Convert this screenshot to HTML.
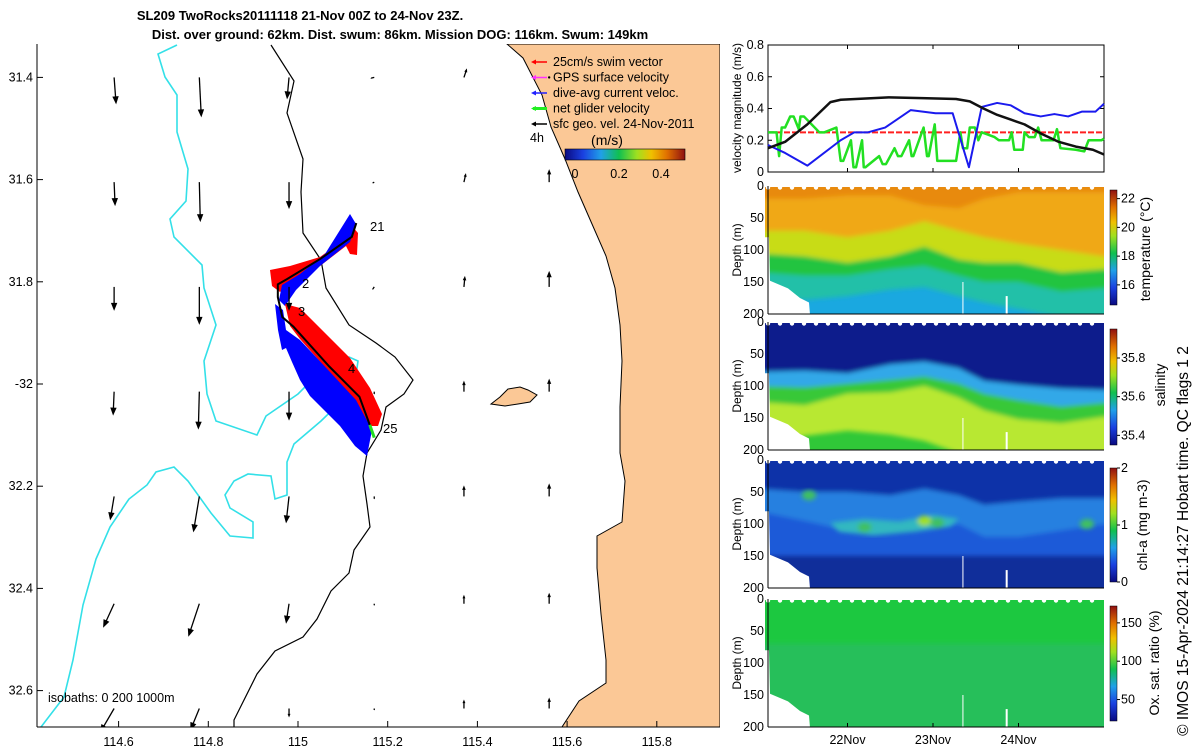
<!DOCTYPE html>
<html><head><meta charset="utf-8"><style>
html,body{margin:0;padding:0;background:#fff;}
svg{display:block;font-family:"Liberation Sans","DejaVu Sans",sans-serif;}
</style></head><body>
<svg id="root" width="1200" height="750" viewBox="0 0 1200 750" xmlns="http://www.w3.org/2000/svg">
<defs>
<linearGradient id="jet" x1="0" y1="1" x2="0" y2="0">
<stop offset="0" stop-color="#0a0a80"/><stop offset=".15" stop-color="#1a40e0"/><stop offset=".3" stop-color="#20a0e8"/><stop offset=".45" stop-color="#10c050"/><stop offset=".6" stop-color="#a0e020"/><stop offset=".72" stop-color="#f0c000"/><stop offset=".85" stop-color="#e07000"/><stop offset="1" stop-color="#901010"/></linearGradient>
<linearGradient id="jeth" x1="0" y1="0" x2="1" y2="0">
<stop offset="0" stop-color="#0a0a80"/><stop offset=".15" stop-color="#1a40e0"/><stop offset=".3" stop-color="#20a0e8"/><stop offset=".45" stop-color="#10c050"/><stop offset=".6" stop-color="#a0e020"/><stop offset=".72" stop-color="#f0c000"/><stop offset=".85" stop-color="#e07000"/><stop offset="1" stop-color="#901010"/></linearGradient>
<filter id="blur" x="-5%" y="-5%" width="110%" height="110%"><feGaussianBlur stdDeviation="2.5"/></filter>
<clipPath id="mapclip"><rect x="37" y="44" width="683" height="683"/></clipPath>
</defs>
<text x="300" y="20" font-size="13" font-weight="bold" text-anchor="middle">SL209 TwoRocks20111118 21-Nov 00Z to 24-Nov 23Z.</text>
<text x="400" y="39" font-size="13" font-weight="bold" text-anchor="middle">Dist. over ground: 62km. Dist. swum: 86km. Mission DOG: 116km. Swum: 149km</text>
<g id="map" clip-path="url(#mapclip)"></g>
<g id="mapaxes"></g>
<g id="vel"></g>
<g id="panels"></g>
<text transform="translate(1188,541) rotate(-90)" font-size="15.5" text-anchor="middle">© IMOS 15-Apr-2024 21:14:27 Hobart time. QC flags 1  2</text>
</svg>
<script>
// ---------- data ----------
const mapLonTicks=[114.6,114.8,115,115.2,115.4,115.6,115.8];
const mapLatTicks=[-31.4,-31.6,-31.8,-32,-32.2,-32.4,-32.6];
const arrowLon=[114.59,114.78,114.98,115.17,115.37,115.56];
const arrowLat=[-31.4,-31.605,-31.81,-32.015,-32.22,-32.43,-32.635];
const arrowU=[[2,2,-2,-4,3,0],[1,1,0,-2,2,0],[0,0,0,-2,1,0],[-1,-1,0,0,0,0],[-4,-6,-3,0,0,0],[-11,-11,-3,0,0,0],[-14,-9,0,0,0,0]];
const arrowV=[[27,40,22,1,-9,0],[24,40,27,1,-9,-13],[24,38,24,3,-11,-16],[24,38,29,3,-11,-13],[24,36,27,3,-11,-13],[24,33,20,2,-9,-11],[24,22,9,2,-9,-11]];
const velTime=[0.07,0.27,0.53,0.8,0.92,1.48,1.87,2.27,2.43,2.59,2.75,2.91,3.07,3.27,3.47,3.67,3.87,4.0];
const velBlack=[0.15,0.19,0.30,0.44,0.455,0.47,0.465,0.46,0.445,0.40,0.36,0.33,0.30,0.24,0.19,0.16,0.14,0.11];
const blueTime=[0.07,0.27,0.53,0.92,1.08,1.24,1.44,1.74,2.03,2.23,2.42,2.57,2.75,2.91,3.07,3.26,3.42,3.58,3.74,3.9,4.0];
const velBlue=[0.17,0.12,0.04,0.2,0.25,0.25,0.28,0.39,0.37,0.37,0.03,0.41,0.435,0.42,0.37,0.35,0.365,0.35,0.38,0.38,0.43];
const swimVal=0.25;
const greenTime=[0.07,0.17,0.2,0.23,0.27,0.33,0.37,0.43,0.45,0.49,0.67,0.73,0.87,0.92,0.95,1.04,1.07,1.1,1.17,1.19,1.21,1.37,1.41,1.45,1.55,1.59,1.63,1.72,1.75,1.77,1.89,1.93,1.95,2.02,2.05,2.07,2.27,2.32,2.35,2.4,2.43,2.49,2.53,2.57,2.72,2.77,2.89,2.92,2.95,3.05,3.07,3.12,3.19,3.23,3.27,3.41,3.45,3.49,3.67,3.77,3.82,3.97,4.0];
const velGreen=[0.25,0.25,0.1,0.28,0.28,0.35,0.35,0.27,0.35,0.35,0.25,0.25,0.28,0.07,0.07,0.2,0.03,0.03,0.2,0.03,0.03,0.1,0.05,0.05,0.15,0.1,0.1,0.2,0.1,0.1,0.28,0.1,0.1,0.3,0.07,0.07,0.07,0.25,0.15,0.15,0.28,0.28,0.2,0.25,0.22,0.2,0.2,0.25,0.14,0.14,0.25,0.22,0.22,0.28,0.2,0.2,0.27,0.15,0.14,0.13,0.2,0.2,0.21];
const velTicks=[0,0.2,0.4,0.6,0.8];
const dayTicks=[1,2,3];const dayLabels=["22Nov","23Nov","24Nov"];
const depthTicks=[0,50,100,150,200];
const secTime=[0.07,0.5,1,1.5,1.9,2.3,2.6,3,3.5,4];
const tempB=[[175,178,172,162,158,172,182,192,205,205],[135,140,140,130,125,140,150,150,165,160],[105,110,120,110,95,115,120,120,135,130],[70,70,80,70,55,70,80,90,100,110],[20,20,15,15,30,35,20,10,10,10]];
const tempColors=["#1aa8e0","#20c0a8","#20c440","#c8dc18","#f0a818","#e88a10"];
const salB=[[205,178,170,176,186,205,205,205,205,205],[125,130,112,110,100,118,138,152,158,148],[100,102,96,90,85,96,112,122,132,126],[78,76,80,66,62,72,92,98,104,106]];
const salColors=["#30c838","#b8e830","#38c838","#30a8e8","#101a8c"];
const chlB=[[150,150,150,150,150,150,150,150,150,150],[80,95,110,105,100,100,120,120,110,100],[45,50,50,55,45,55,70,65,60,60]];
const chlColors=["#102e9a","#1c5ad8","#2880e0","#1030a8"];
const chlPeakT=[0.55,1.2,1.9,2.05,3.8];const chlPeakD=[55,105,95,98,100];
const tempTicks=[16,18,20,22];const salTicks=[35.4,35.6,35.8];const chlTicks=[0,1,2];const oxTicks=[50,100,150];
const track=[[115.13,-31.685],[115.12,-31.712],[115.05,-31.755],[114.975,-31.795],[114.955,-31.805],[114.955,-31.83],[114.965,-31.869],[114.99,-31.888],[115.07,-31.966],[115.137,-32.025],[115.16,-32.08]];

// ---------- helpers ----------
const NS="http://www.w3.org/2000/svg";
function mk(tag,attrs,parent){const e=document.createElementNS(NS,tag);for(const k in attrs)e.setAttribute(k,attrs[k]);(parent||document.getElementById('root')).appendChild(e);return e;}
const lonX=lon=>298+(lon-115)*448.5;
const latY=lat=>384+(-32-lat)*511;

// ---------- map ----------
const map=document.getElementById('map');
const land=mk('polygon',{points:"507,44 523,58 542,95 551,127 565,159 578,192 592,224 606,256 615,288 620,325 622,361 620,407 620,453 625,481 622,522 597,536 597,568 601,614 606,660 606,683 579,701 560,730 720,730 720,44",fill:"#fbc896",stroke:"#000","stroke-width":1},map);

const isl=mk('polygon',{points:"491,404 500,397 508,389 520,387 528,390 537,395 530,402 518,404 505,406",fill:"#fbc896",stroke:"#000","stroke-width":1},map);

const iso1=mk('polyline',{points:"177,45 158,54 165,77 177,95 177,132 188,169 186,201 170,219 174,237 202,265 204,288 216,325 204,361 207,394 216,421 257,435 266,416 298,394 321,371 349,357 358,361 354,389 321,421 294,444 287,462 287,495 275,499 271,476 248,474 234,481 225,495 230,508 253,522 253,538 230,536 211,513 188,481 174,467 156,472 147,485 129,499 110,527 96,559 83,605 73,660 64,697 41,727",fill:"none",stroke:"#33e0e8","stroke-width":1.6},map);

const iso2=mk('polyline',{points:"271,45 294,81 287,113 303,159 301,192 303,233 321,260 326,288 349,325 376,343 395,357 413,380 404,394 386,407 381,430 367,453 363,476 367,504 370,527 354,550 349,573 331,591 317,619 303,637 275,651 257,674 234,720 234,730",fill:"none",stroke:"#000","stroke-width":1.2},map);

const swaths=[["#ff0000","270,270 290,266 320,257 346,238 352,226 358,233 357,255 350,254 346,246 320,266 290,283 280,292 272,286","swim-swath-north"],
["#0000ff","350,214 356,224 350,242 320,266 296,290 285,306 279,300 282,285 300,274 325,254","current-swath-north"],
["#ff0000","285,304 300,308 312,320 350,358 370,388 382,414 378,426 369,426 355,401 330,373 300,339 290,326","swim-swath-south"],
["#0000ff","275,304 283,310 286,330 300,340 330,372 356,400 372,430 367,456 355,446 340,426 310,396 300,380 292,362 286,348 282,350 278,330","current-swath-south"]];
swaths.forEach(s=>{const p=mk('polygon',{points:s[1],fill:s[0]},map);});
const tr=mk('polyline',{points:track.map(p=>lonX(p[0])+","+latY(p[1])).join(" "),fill:"none",stroke:"#000","stroke-width":2},map);

const gl=mk('line',{x1:lonX(115.16),y1:latY(-32.08),x2:lonX(115.17),y2:latY(-32.105),stroke:"#22dd22","stroke-width":3},map);

[["21",370,231],["2",302,288],["3",298,316],["4",348,373],["25",383,433]].forEach(d=>{const t=mk('text',{x:d[1],y:d[2],"font-size":13},map);t.textContent=d[0];});
for(let r=0;r<arrowLat.length;r++)for(let c=0;c<arrowLon.length;c++){
 const x0=lonX(arrowLon[c]),y0=latY(arrowLat[r]),u=arrowU[r][c],v=arrowV[r][c];
 const g=mk('g',{},map);
 const L=Math.hypot(u,v);
 if(L<1.5){mk('circle',{cx:x0,cy:y0,r:1.2,fill:"#000"},g);continue;}
 const x1=x0+u,y1=y0+v,ux=u/L,uy=v/L,h=Math.min(8,L*0.4),w=h*0.4;
 mk('line',{x1:x0,y1:y0,x2:x1-ux*h*0.6,y2:y1-uy*h*0.6,stroke:"#000","stroke-width":1.3},g);
 mk('polygon',{points:`${x1},${y1} ${x1-ux*h-uy*w},${y1-uy*h+ux*w} ${x1-ux*h+uy*w},${y1-uy*h-ux*w}`,fill:"#000"},g);
}
const leg=mk('g',{},map);
[["25cm/s swim vector","#ff0000"],["GPS surface velocity","#ff33ff"],["dive-avg current veloc.","#2020ff"],["net glider velocity","#22ee22"],["sfc geo. vel. 24-Nov-2011","#000"]].forEach((d,i)=>{
 const y=62+i*15.5;const e=mk('g',{},leg);
 mk('line',{x1:533,y1:y,x2:547,y2:y,stroke:d[1],"stroke-width":i==3?3:1.5},e);
 mk('polygon',{points:`531,${y} 536,${y-2.5} 536,${y+2.5}`,fill:d[1]},e);
 const t=mk('text',{x:553,y:y+4,"font-size":12.5},e);t.textContent=d[0];});
let t4=mk('text',{x:530,y:142,"font-size":12.5},leg);t4.textContent="4h";
let tms=mk('text',{x:607,y:145,"font-size":14,"text-anchor":"middle"},leg);tms.textContent="(m/s)";
mk('rect',{x:565,y:149,width:120,height:11,fill:"url(#jeth)",stroke:"#000","stroke-width":.6},leg);
[["0",575],["0.2",619],["0.4",661]].forEach(d=>{const t=mk('text',{x:d[1],y:178,"font-size":12.5,"text-anchor":"middle"},leg);t.textContent=d[0];});
let isb=mk('text',{x:48,y:702,"font-size":12.5},map);isb.textContent="isobaths: 0   200  1000m";
const ma=document.getElementById('mapaxes');
mk('line',{x1:37,y1:44,x2:37,y2:727,stroke:"#000","stroke-width":1},ma);
mk('line',{x1:37,y1:727,x2:720,y2:727,stroke:"#000","stroke-width":1},ma);
mapLonTicks.forEach(l=>{const x=lonX(l);mk('line',{x1:x,y1:727,x2:x,y2:721,stroke:"#000"},ma);const t=mk('text',{x:x,y:746,"font-size":12.5,"text-anchor":"middle"},ma);t.textContent=String(l);});
mapLatTicks.forEach(l=>{const y=latY(l);mk('line',{x1:37,y1:y,x2:43,y2:y,stroke:"#000"},ma);const t=mk('text',{x:33,y:y+4,"font-size":12.5,"text-anchor":"end"},ma);t.textContent=(l==-32?"-32":String(-l));});

// ---------- velocity chart ----------
const PX0=768,PX1=1104;
const tX=t=>PX0+(t-0.07)/3.93*(PX1-PX0);
const vY=v=>172-v/0.8*127;
const vel=document.getElementById('vel');
mk('rect',{x:PX0,y:45,width:PX1-PX0,height:127,fill:"#fff",stroke:"#000","stroke-width":1},vel);
velTicks.forEach(v=>{const y=vY(v);mk('line',{x1:PX0,y1:y,x2:PX0+4,y2:y,stroke:"#000"},vel);mk('line',{x1:PX1,y1:y,x2:PX1-4,y2:y,stroke:"#000"},vel);const t=mk('text',{x:PX0-4,y:y+4,"font-size":12.5,"text-anchor":"end"},vel);t.textContent=String(v);});
dayTicks.forEach(d=>{const x=tX(d);mk('line',{x1:x,y1:172,x2:x,y2:168,stroke:"#000"},vel);mk('line',{x1:x,y1:45,x2:x,y2:49,stroke:"#000"},vel);});
let vl=mk('text',{transform:"translate(741,108) rotate(-90)","font-size":12,"text-anchor":"middle"},vel);vl.textContent="velocity magnitude (m/s)";
const line=(ts,vs,col,w,name,dash)=>{const p=mk('polyline',{points:ts.map((t,i)=>tX(t)+","+vY(vs[i])).join(" "),fill:"none",stroke:col,"stroke-width":w,"stroke-linejoin":"round"},vel);if(dash)p.setAttribute('stroke-dasharray',dash);};
line([0.07,4.0],[swimVal,swimVal],"#ff2020",2,'swim-speed-line',"6,2");
line(greenTime,velGreen,"#22e022",2.5,'net-glider-velocity-line');
line(blueTime,velBlue,"#1a1aee",2,'dive-avg-current-line');
line(velTime,velBlack,"#111",2.5,'geo-velocity-line');

// ---------- section panels ----------
const panels=document.getElementById('panels');
const tops=[186,322,460,599];const PH=128;
function panelBase(i,name){const g=mk('g',{},panels);
 const cp=mk('clipPath',{id:'pc'+i},g);mk('rect',{x:PX0-3,y:tops[i],width:PX1-PX0+3,height:PH},cp);
 const inner=mk('g',{"clip-path":`url(#pc${i})`},g);return [g,inner];}
const dY=(i,d)=>tops[i]+d/200*PH;
function bands(inner,i,B,colors){
 mk('rect',{x:PX0-3,y:tops[i],width:PX1-PX0+3,height:PH,fill:colors[0]},inner);
 const bl=mk('g',{filter:"url(#blur)"},inner);
 B.forEach((b,k)=>{const pts=[[PX0-10,tops[i]-5]];secTime.forEach((t,j)=>pts.push([tX(t),dY(i,b[j])]));pts[1][0]=PX0-10;pts.push([PX1+10,dY(i,b[b.length-1])],[PX1+10,tops[i]-5]);
  const p=mk('polygon',{points:pts.map(q=>q.join(",")).join(" "),fill:colors[k+1]},bl);});
}
function finish(g,i,lbl,ticks,vmin,vmax,cbTop,cbBot,showX){
 mk('polygon',{points:`${PX0-4},${dY(i,80)} ${PX0+1},${dY(i,80)} ${PX0+2},${dY(i,148)} ${PX0+20},${dY(i,160)} ${PX0+32},${dY(i,175)} ${PX0+41},${dY(i,182)} ${PX0+42},${dY(i,201)} ${PX0-4},${dY(i,201)}`,fill:"#fff"},g);
 mk('line',{x1:tX(2.35),y1:dY(i,150),x2:tX(2.35),y2:dY(i,200),stroke:"#fff","stroke-width":1},g);
 mk('rect',{x:tX(2.85),y:dY(i,172),width:2,height:PH*0.14,fill:"#fff"},g);
 mk('rect',{x:PX0-4,y:tops[i]-3,width:PX1-PX0+8,height:4,fill:"#fff"},g);
 for(let x=PX0;x<PX1;x+=12)mk('circle',{cx:x,cy:tops[i]+1.5,r:2.2,fill:"#fff"},g);
 mk('line',{x1:PX0,y1:tops[i],x2:PX0,y2:tops[i]+PH,stroke:"#000","stroke-width":1},g);
 mk('line',{x1:PX0,y1:tops[i]+PH,x2:PX1,y2:tops[i]+PH,stroke:"#000","stroke-width":1},g);
 depthTicks.forEach(d=>{const t=mk('text',{x:PX0-4,y:dY(i,d)+4,"font-size":12.5,"text-anchor":"end"},g);t.textContent=String(d);});
 const dt=mk('text',{transform:`translate(741,${tops[i]+PH/2}) rotate(-90)`,"font-size":12,"text-anchor":"middle"},g);dt.textContent="Depth (m)";
 const cb=mk('rect',{x:1110,y:cbTop,width:7,height:cbBot-cbTop,fill:"url(#jet)",stroke:"#000","stroke-width":.5},g);
 ticks.forEach(v=>{const y=cbBot-(v-vmin)/(vmax-vmin)*(cbBot-cbTop);mk('line',{x1:1117,y1:y,x2:1120,y2:y,stroke:"#000"},g);const t=mk('text',{x:1121,y:y+4,"font-size":12.5},g);t.textContent=String(v);});
 const lt=mk('text',{transform:`translate(${lbl[1]},${lbl[2]}) rotate(-90)`,"font-size":14,"text-anchor":"middle"},g);lt.textContent=lbl[0];
 if(showX)dayTicks.forEach((d,k)=>{const x=tX(d);mk('line',{x1:x,y1:tops[i]+PH,x2:x,y2:tops[i]+PH-4,stroke:"#000"},g);const t=mk('text',{x:x,y:744,"font-size":12.5,"text-anchor":"middle"},g);t.textContent=dayLabels[k];});
}
let [g0,i0]=panelBase(0,'temperature-panel');bands(i0,0,tempB,tempColors);finish(g0,0,["temperature (°C)",1150,249],tempTicks,14.6,22.6,190,305,false);
let [g1,i1]=panelBase(1,'salinity-panel');bands(i1,1,salB,salColors);finish(g1,1,["salinity",1165,385],salTicks,35.35,35.95,329,445,false);
let [g2,i2]=panelBase(2,'chlorophyll-panel');bands(i2,2,chlB,chlColors);
const st=mk('g',{filter:"url(#blur)"},i2);
mk('polygon',{points:[[0.8,98],[1.2,92],[1.6,96],[2.0,86],[2.3,92],[2.2,104],[1.8,112],[1.3,118],[0.9,112]].map(p=>tX(p[0])+","+dY(2,p[1])).join(" "),fill:"#30b8c0"},st);
chlPeakT.forEach((t,k)=>{const c=mk('ellipse',{cx:tX(t),cy:dY(2,chlPeakD[k]),rx:7,ry:5,fill:k==2?"#a0e020":"#40c060"},st);});
finish(g2,2,["chl-a (mg m-3)",1147,525],chlTicks,0,2,468,582,false);
let [g3,i3]=panelBase(3,'oxygen-panel');bands(i3,3,[[70,70,70,70,70,70,70,70,70,70]],["#26bf5a","#1ac840"]);finish(g3,3,["Ox. sat. ratio (%)",1159,663],oxTicks,22,172,606,721,true);
</script>
</body></html>
